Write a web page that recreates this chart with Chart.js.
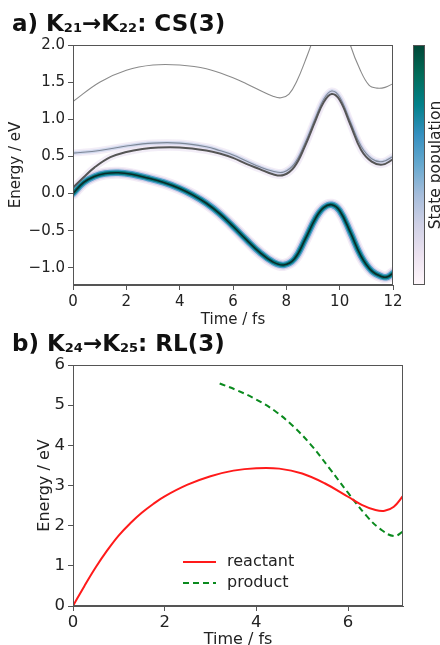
<!DOCTYPE html>
<html>
<head>
<meta charset="utf-8">
<script src="https://cdn.jsdelivr.net/npm/chart.js@4.4.0/dist/chart.umd.min.js"></script>
<style>
  html, body { margin: 0; padding: 0; background: #fff; overflow: hidden; }
  #wrapA { position: absolute; left: 0; top: 0; width: 440px; height: 330px; }
  #wrapB { position: absolute; left: 0; top: 325px; width: 440px; height: 325px; }
</style>
</head>
<body>
<div id="wrapA"><canvas id="graficoA"></canvas></div>
<div id="wrapB"><canvas id="graficoB"></canvas></div>
<script>
// panel a) energies along the trajectory
const groundTime = [0, 0.4, 0.8, 1.2, 1.7, 2.2, 2.8, 3.4, 4.0, 4.5, 5.0, 5.5, 6.0, 6.5, 7.0, 7.5, 7.9, 8.3, 8.7, 9.1, 9.4, 9.7, 10.0, 10.4, 10.8, 11.2, 11.6, 11.8, 12];
const groundEnergy = [0.0, 0.15, 0.23, 0.27, 0.28, 0.26, 0.21, 0.15, 0.07, -0.02, -0.13, -0.27, -0.44, -0.62, -0.79, -0.92, -0.96, -0.88, -0.62, -0.33, -0.19, -0.15, -0.23, -0.52, -0.84, -1.04, -1.12, -1.12, -1.07];

const s1Time = [0, 0.4, 0.8, 1.4, 2.0, 2.6, 3.2, 4.0, 5.0, 5.5, 6.0, 6.5, 7.0, 7.5, 7.9, 8.3, 8.7, 9.1, 9.4, 9.7, 10.0, 10.4, 10.8, 11.2, 11.6, 12];
const s1Energy = [0.08, 0.22, 0.35, 0.49, 0.56, 0.60, 0.62, 0.62, 0.58, 0.54, 0.48, 0.40, 0.33, 0.26, 0.25, 0.36, 0.64, 0.99, 1.23, 1.34, 1.26, 0.93, 0.59, 0.43, 0.39, 0.46];

const s2Time = [0, 1, 2, 3, 4, 5, 5.5, 6, 6.5, 7, 7.5, 7.9, 8.3, 8.7, 9.1, 9.4, 9.7, 10.0, 10.4, 10.8, 11.2, 11.6, 12];
const s2Energy = [0.545, 0.58, 0.64, 0.68, 0.68, 0.63, 0.58, 0.52, 0.44, 0.36, 0.30, 0.29, 0.40, 0.68, 1.03, 1.27, 1.38, 1.30, 0.97, 0.64, 0.47, 0.43, 0.50];

const s3Time = [0, 1, 2, 3, 4, 5, 6, 6.5, 7, 7.5, 7.8, 8.1, 8.4, 8.7, 9.0, 9.35, 9.65, 10.0, 10.4, 10.75, 11.1, 11.4, 11.7, 12];
const s3Energy = [1.24, 1.50, 1.66, 1.73, 1.73, 1.68, 1.56, 1.48, 1.39, 1.31, 1.29, 1.34, 1.52, 1.78, 2.08, 2.55, 2.75, 2.5, 2.0, 1.68, 1.46, 1.42, 1.43, 1.48];

const topTimeTicks = [0, 2, 4, 6, 8, 10, 12];
const topEnergyTicks = [-1.0, -0.5, 0.0, 0.5, 1.0, 1.5, 2.0];

// panel b)
const reactTime = [0, 0.25, 0.5, 0.75, 1, 1.25, 1.5, 1.75, 2, 2.5, 3, 3.5, 4, 4.5, 5, 5.5, 6, 6.3, 6.6, 6.8, 7.0, 7.2];
const reactEnergy = [0, 0.5, 0.97, 1.39, 1.76, 2.06, 2.32, 2.54, 2.73, 3.02, 3.23, 3.37, 3.43, 3.42, 3.30, 3.05, 2.72, 2.52, 2.39, 2.37, 2.47, 2.74];
const prodTime = [3.2, 3.6, 4.0, 4.4, 4.8, 5.2, 5.6, 6.0, 6.4, 6.7, 7.0, 7.2];
const prodEnergy = [5.54, 5.36, 5.14, 4.86, 4.48, 4.0, 3.42, 2.82, 2.25, 1.92, 1.74, 1.85];

const bottomTimeTicks = [0, 2, 4, 6];
const bottomEnergyTicks = [0, 1, 2, 3, 4, 5, 6];

// titles: [text, isSubscript]
const titleA = [['a) K', false], ['21', true], ['→K', false], ['22', true], [': CS(3)', false]];
const titleB = [['b) K', false], ['24', true], ['→K', false], ['25', true], [': RL(3)', false]];

// PuBuGn colour map for the colour bar
const pubugn = ['#fff7fb', '#ece2f0', '#d0d1e6', '#a6bddb', '#67a9cf', '#3690c0', '#02818a', '#016c59', '#014636'];

Chart.defaults.font.family = 'DejaVu Sans';
Chart.defaults.color = '#222';
Chart.defaults.animation = false;

function pts(ts, es) {
  return ts.map((t, i) => ({ x: t, y: es[i] }));
}

function layer(ts, es, color, width, order) {
  return {
    data: pts(ts, es),
    borderColor: color,
    borderWidth: width,
    pointRadius: 0,
    tension: 0.4,
    fill: false,
    order: order,
    clip: 0,
    borderCapStyle: 'round',
    borderJoinStyle: 'round'
  };
}

function titlePlugin(parts, baseline) {
  return {
    id: 'mixedTitle',
    afterDraw(chart) {
      const ctx = chart.ctx;
      let x = 12;
      ctx.save();
      ctx.fillStyle = '#111';
      ctx.textBaseline = 'alphabetic';
      parts.forEach(([txt, sub]) => {
        ctx.font = sub ? 'bold 13px DejaVu Sans' : 'bold 23px DejaVu Sans';
        ctx.fillText(txt, x, baseline + (sub ? 1 : 0));
        x += ctx.measureText(txt).width;
      });
      ctx.restore();
    }
  };
}

const frameBox = {
  id: 'frameBox',
  afterDatasetsDraw(chart) {
    const { ctx, chartArea: a } = chart;
    ctx.save();
    ctx.strokeStyle = '#555';
    ctx.lineWidth = 1;
    ctx.strokeRect(a.left + 0.5, a.top + 0.5, a.right - a.left - 1, a.bottom - a.top - 1);
    ctx.restore();
  }
};

const colorBar = {
  id: 'colorBar',
  afterDraw(chart) {
    const { ctx, chartArea: a } = chart;
    const x0 = a.right + 20, w = 12;
    const grad = ctx.createLinearGradient(0, a.bottom, 0, a.top);
    pubugn.forEach((c, i) => grad.addColorStop(i / (pubugn.length - 1), c));
    ctx.save();
    ctx.fillStyle = grad;
    ctx.fillRect(x0, a.top, w, a.bottom - a.top);
    ctx.strokeStyle = '#555';
    ctx.lineWidth = 1;
    ctx.strokeRect(x0 + 0.5, a.top + 0.5, w - 1, a.bottom - a.top - 1);
    ctx.translate(440, (a.top + a.bottom) / 2);
    ctx.rotate(-Math.PI / 2);
    ctx.font = '15.5px DejaVu Sans';
    ctx.fillStyle = '#222';
    ctx.textAlign = 'center';
    ctx.textBaseline = 'alphabetic';
    ctx.fillText('State population', 0, 0);
    ctx.restore();
  }
};

const lineLegend = {
  id: 'lineLegend',
  afterDatasetsDraw(chart) {
    const { ctx, chartArea: a } = chart;
    const items = chart.data.datasets.filter(d => d.label);
    ctx.save();
    ctx.font = '16px DejaVu Sans';
    ctx.textBaseline = 'middle';
    items.forEach((d, i) => {
      const y = a.bottom - 44 + i * 21;
      ctx.strokeStyle = d.borderColor;
      ctx.lineWidth = d.borderWidth;
      ctx.setLineDash(d.borderDash || []);
      ctx.beginPath();
      ctx.moveTo(a.left + 110, y);
      ctx.lineTo(a.left + 143, y);
      ctx.stroke();
      ctx.setLineDash([]);
      ctx.fillStyle = '#222';
      ctx.fillText(d.label, a.left + 154, y);
    });
    ctx.restore();
  }
};

function fixTicks(values) {
  return function (scale) {
    scale.ticks = values.map(v => ({ value: v }));
  };
}

const axisGrid = { drawOnChartArea: false, drawTicks: true, tickLength: 5, color: '#555' };

// panel a)
const graficoA = new Chart(document.querySelector('#graficoA'), {
  type: 'line',
  data: {
    datasets: [
      layer(groundTime, groundEnergy, '#0b2a27', 1.6, 0),
      layer(groundTime, groundEnergy, '#047a80', 4, 1),
      layer(groundTime, groundEnergy, '#4f9fcb', 6.5, 2),
      layer(groundTime, groundEnergy, 'rgba(200,196,226,0.7)', 9, 3),
      layer(groundTime, groundEnergy, 'rgba(238,228,242,0.7)', 12, 4),
      layer(s1Time, s1Energy, '#555555', 2, 0),
      layer(s1Time, s1Energy, 'rgba(232,222,240,0.55)', 7, 5),
      layer(s2Time, s2Energy, '#7d8797', 1.1, 0),
      layer(s2Time, s2Energy, 'rgba(150,178,218,0.35)', 3.5, 4),
      layer(s2Time, s2Energy, 'rgba(232,222,240,0.55)', 7, 5),
      layer(s3Time, s3Energy, '#8a8a8a', 1.1, 0)
    ]
  },
  options: {
    responsive: true,
    maintainAspectRatio: false,
    layout: { padding: { left: 12, right: 47, top: 45, bottom: 0 } },
    plugins: {
      legend: { display: false },
      tooltip: { enabled: false },
      title: { display: false }
    },
    scales: {
      x: {
        type: 'linear', min: 0, max: 12,
        afterBuildTicks: fixTicks(topTimeTicks),
        afterFit(scale) { scale.height = 45; },
        grid: axisGrid,
        border: { color: '#555' },
        ticks: { font: { size: 15 }, padding: 3, maxRotation: 0 },
        title: { display: true, text: 'Time / fs', font: { size: 15 }, padding: { top: 0, bottom: 1 } }
      },
      y: {
        type: 'linear', min: -1.23, max: 2.0,
        afterBuildTicks: fixTicks(topEnergyTicks),
        afterFit(scale) { scale.width = 61; },
        grid: axisGrid,
        border: { color: '#555' },
        ticks: { font: { size: 15 }, padding: 3, callback: v => v.toFixed(1).replace('-', '−') },
        title: { display: true, text: 'Energy / eV', font: { size: 15 }, padding: { top: -5, bottom: 0 } }
      }
    }
  },
  plugins: [frameBox, colorBar, titlePlugin(titleA, 31)]
});

// panel b)
const graficoB = new Chart(document.querySelector('#graficoB'), {
  type: 'line',
  data: {
    datasets: [
      {
        label: 'reactant',
        data: pts(reactTime, reactEnergy),
        borderColor: '#ff1a1a',
        borderWidth: 2,
        pointRadius: 0,
        tension: 0.4,
        clip: 0
      },
      {
        label: 'product',
        data: pts(prodTime, prodEnergy),
        borderColor: '#0a8a1e',
        borderWidth: 2,
        borderDash: [6, 4],
        pointRadius: 0,
        tension: 0.4,
        clip: 0
      }
    ]
  },
  options: {
    responsive: true,
    maintainAspectRatio: false,
    layout: { padding: { left: 12, right: 37, top: 40, bottom: 0 } },
    plugins: {
      legend: { display: false },
      tooltip: { enabled: false },
      title: { display: false }
    },
    scales: {
      x: {
        type: 'linear', min: 0, max: 7.2,
        afterBuildTicks: fixTicks(bottomTimeTicks),
        afterFit(scale) { scale.height = 44; },
        grid: axisGrid,
        border: { color: '#555' },
        ticks: { font: { size: 16.5 }, padding: 2, maxRotation: 0 },
        title: { display: true, text: 'Time / fs', font: { size: 16 }, padding: { top: 0, bottom: 1 } }
      },
      y: {
        type: 'linear', min: 0, max: 6,
        afterBuildTicks: fixTicks(bottomEnergyTicks),
        afterFit(scale) { scale.width = 61; },
        grid: axisGrid,
        border: { color: '#555' },
        ticks: { font: { size: 16.5 }, padding: 3 },
        title: { display: true, text: 'Energy / eV', font: { size: 16 }, padding: { top: 23, bottom: 0 } }
      }
    }
  },
  plugins: [frameBox, lineLegend, titlePlugin(titleB, 26)]
});
</script>
</body>
</html>
